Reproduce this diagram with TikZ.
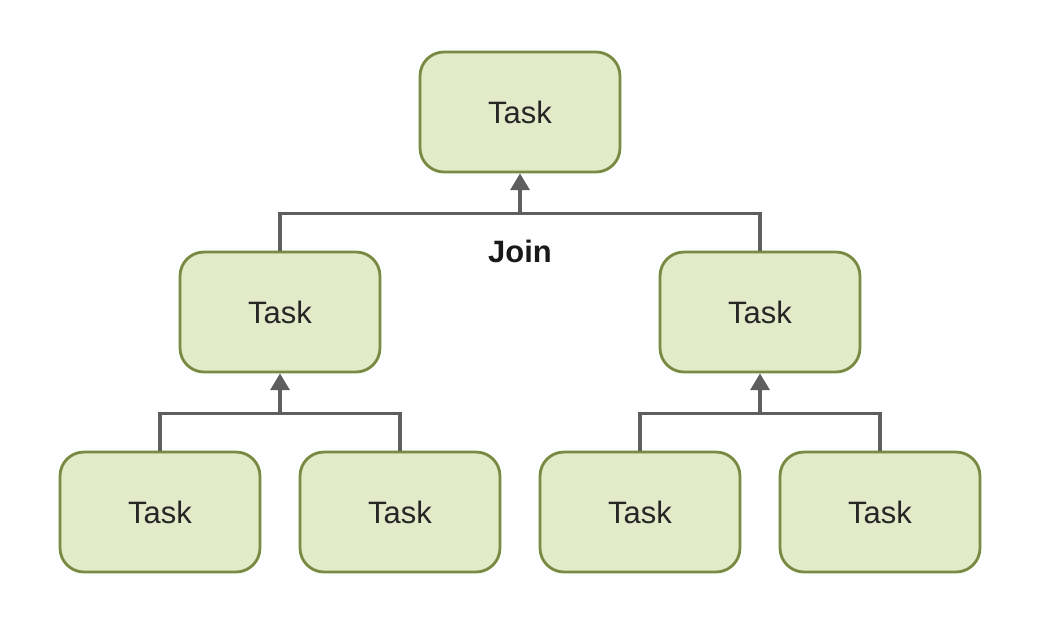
\documentclass[tikz,border=0pt]{standalone}
\usepackage{fontspec}
\setmainfont{Liberation Sans}
\usepackage{tikz}
\usetikzlibrary{arrows.meta, positioning, calc}
\definecolor{taskFill}{HTML}{E2EAC8}
\definecolor{taskBorder}{HTML}{7A8A42}
\definecolor{joinGray}{HTML}{5F5F5F}
\tikzstyle{taskbox} = [rectangle, rounded corners=0.6cm, minimum width=5.0cm,
  minimum height=3.0cm, fill=taskFill, draw=taskBorder, line width=2pt,
  text=black!85, font=\fontsize{22}{26}\selectfont]
\tikzstyle{joinline} = [line width=2.2pt, color=joinGray]
\tikzstyle{joinarw} = [-{Triangle[length=0.42cm, width=0.48cm]}, line width=2.2pt, color=joinGray]

\begin{document}
\begin{tikzpicture}
  \useasboundingbox (0,0) rectangle (26.1,-15.4);

  % Root
  \node[taskbox] (root) at (13.0,-2.8) {Task};

  % Middle level
  \node[taskbox] (midL) at (7.0,-7.8) {Task};
  \node[taskbox] (midR) at (19.0,-7.8) {Task};

  % Leaves
  \node[taskbox] (leafA) at (4.0,-12.8) {Task};
  \node[taskbox] (leafB) at (10.0,-12.8) {Task};
  \node[taskbox] (leafC) at (16.0,-12.8) {Task};
  \node[taskbox] (leafD) at (22.0,-12.8) {Task};

  % Join bars
  \coordinate (barTop) at ($(root.south)+(0,-1.0)$);
  \coordinate (barL) at ($(midL.south)+(0,-1.0)$);
  \coordinate (barR) at ($(midR.south)+(0,-1.0)$);

  \draw[joinline] (midL.north) |- (barTop) -| (midR.north);
  \draw[joinline] (leafA.north) |- (barL) -| (leafB.north);
  \draw[joinline] (leafC.north) |- (barR) -| (leafD.north);

  % Arrows up to parents
  \foreach \bar/\dst in {barTop/root, barL/midL, barR/midR} {
    \draw[joinarw] (\bar) -- (\dst.south);
  }

  \node[font=\fontsize{22}{26}\selectfont\bfseries, text=black!90, below=0.55cm of barTop] (join) {Join};
\end{tikzpicture}
\end{document}
